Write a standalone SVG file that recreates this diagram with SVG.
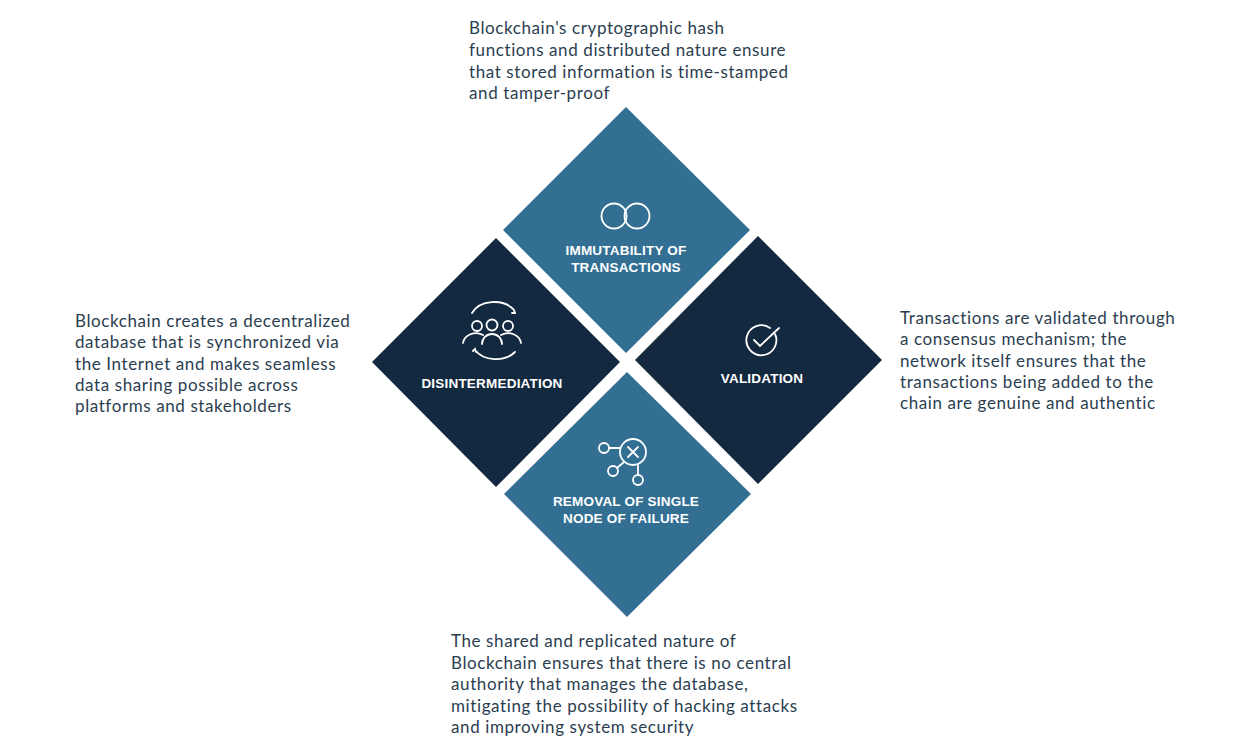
<svg xmlns="http://www.w3.org/2000/svg" width="1258" height="740" viewBox="0 0 1258 740">
<style>
.light{fill:#326f93}.dark{fill:#12293f}
.lbl{font-family:"Liberation Sans",Arial,sans-serif;font-weight:bold;font-size:13.5px;letter-spacing:0.2px;fill:#fff;text-anchor:middle}
.desc{font-family:"Lato","Open Sans",sans-serif;font-size:17px;letter-spacing:0.6px;fill:#2b3e50}
.ic{fill:none;stroke:#fff;stroke-width:1.8;stroke-linecap:round}
</style>
<rect width="1258" height="740" fill="#fff"/>
<g id="immutability">
<polygon class="light" points="626,107 750,230 626,353 503,230"/>
<circle class="ic" cx="614" cy="216" r="12.5"/><circle class="ic" cx="637" cy="216" r="12.5"/>
<text class="lbl" x="626" y="255">IMMUTABILITY OF</text>
<text class="lbl" x="626" y="272">TRANSACTIONS</text>
</g>
<g id="disintermediation">
<polygon class="dark" points="496,238 620,362 496,487 372,362"/>
<g class="ic">
<circle cx="477" cy="326" r="5"/><circle cx="492" cy="325" r="5.5"/><circle cx="508" cy="326" r="5"/>
<path d="M463 343 a13 11 0 0 1 20 -8 M482 344 a10 10 0 0 1 20 0 M501 335 a13 11 0 0 1 20 8"/>
<path d="M472 313 a24 18 0 0 1 42 -3 M514 310 l1 3 l-3 0"/>
<path d="M475 350 a24 18 0 0 0 40 2 M473 351 l2 -2 l1 3"/>
</g>
<text class="lbl" x="492" y="388">DISINTERMEDIATION</text>
</g>
<g id="validation">
<polygon class="dark" points="758,236 882,360 758,484 635,360"/>
<g class="ic">
<path d="M775 334 a15 15 0 1 1 -5 -6"/>
<path d="M754 340 l6 6 l19 -18"/>
</g>
<text class="lbl" x="762" y="383">VALIDATION</text>
</g>
<g id="removal">
<polygon class="light" points="627,372 751,494 627,617 504,494"/>
<g class="ic">
<circle cx="633" cy="452" r="13"/><path d="M628 447 l10 10 M638 447 l-10 10"/>
<circle cx="604" cy="448" r="5"/><path d="M609 448 h11"/>
<circle cx="613" cy="471" r="5"/><path d="M617 468 l7 -6"/>
<circle cx="638" cy="480" r="5"/><path d="M638 475 v-10"/>
</g>
<text class="lbl" x="626" y="506">REMOVAL OF SINGLE</text>
<text class="lbl" x="626" y="523">NODE OF FAILURE</text>
</g>
<g id="desc-top" class="desc">
<text x="469" y="34">Blockchain's cryptographic hash</text>
<text x="469" y="56">functions and distributed nature ensure</text>
<text x="469" y="78">that stored information is time-stamped</text>
<text x="469" y="99">and tamper-proof</text>
</g>
<g id="desc-left" class="desc">
<text x="75" y="327">Blockchain creates a decentralized</text>
<text x="75" y="348">database that is synchronized via</text>
<text x="75" y="370">the Internet and makes seamless</text>
<text x="75" y="391">data sharing possible across</text>
<text x="75" y="412">platforms and stakeholders</text>
</g>
<g id="desc-right" class="desc">
<text x="900" y="324">Transactions are validated through</text>
<text x="900" y="345">a consensus mechanism; the</text>
<text x="900" y="367">network itself ensures that the</text>
<text x="900" y="388">transactions being added to the</text>
<text x="900" y="409">chain are genuine and authentic</text>
</g>
<g id="desc-bottom" class="desc">
<text x="451" y="647">The shared and replicated nature of</text>
<text x="451" y="669">Blockchain ensures that there is no central</text>
<text x="451" y="690">authority that manages the database,</text>
<text x="451" y="712">mitigating the possibility of hacking attacks</text>
<text x="451" y="733">and improving system security</text>
</g>
<g id="connectors"/>
</svg>
